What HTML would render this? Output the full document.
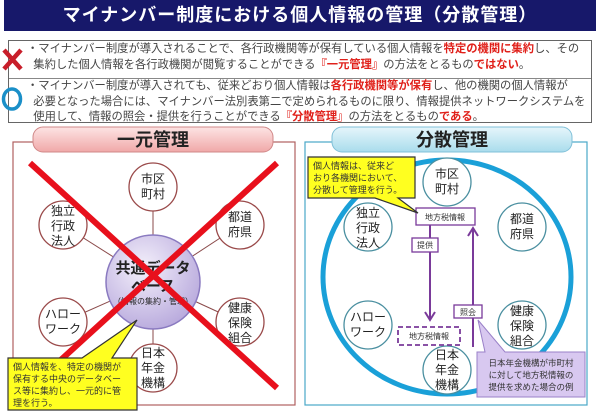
<!DOCTYPE html>
<html><head><meta charset="utf-8"><style>
body{margin:0;width:600px;height:415px;background:#fff;overflow:hidden;font-family:"Liberation Sans","Noto Sans CJK JP",sans-serif;position:relative}
.title{position:absolute;left:4px;top:0;width:592px;height:31px;background:#17186a;color:#fff;font-size:18px;text-align:center;line-height:31px;letter-spacing:1px;font-weight:bold}
.box{position:absolute;left:8px;top:40px;width:582px;height:81px;border:1px solid #666;}
.row{position:absolute;left:18px;font-size:11.3px;line-height:15.5px;color:#444;white-space:nowrap}
.r{color:#e0201a;font-weight:bold}
svg{position:absolute;left:0;top:0}
</style></head><body>
<div class="title">マイナンバー制度における個人情報の管理（分散管理）</div>
<div class="box">
 <div style="position:absolute;left:0;top:37px;width:582px;border-top:1px solid #888"></div>
 <div class="row" style="top:1px">・マイナンバー制度が導入されることで、各行政機関等が保有している個人情報を<span class="r">特定の機関に集約</span>し、その<br>&nbsp;&nbsp;集約した個人情報を各行政機関が閲覧することができる<span class="r">『一元管理』</span>の方法をとるもの<span class="r">ではない</span>。</div>
 <div class="row" style="top:38px">・マイナンバー制度が導入されても、従来どおり個人情報は<span class="r">各行政機関等が保有</span>し、他の機関の個人情報が<br>&nbsp;&nbsp;必要となった場合には、マイナンバー法別表第二で定められるものに限り、情報提供ネットワークシステムを<br>&nbsp;&nbsp;使用して、情報の照会・提供を行うことができる<span class="r">『分散管理』</span>の方法をとるもの<span class="r">である</span>。</div>
</div>
<svg width="600" height="415" font-family="Liberation Sans,Noto Sans CJK JP,sans-serif">
<defs>
<linearGradient id="pk" x1="0" y1="0" x2="0" y2="1"><stop offset="0" stop-color="#fde4e4"/><stop offset="1" stop-color="#f0a8a8"/></linearGradient>
<linearGradient id="bl" x1="0" y1="0" x2="0" y2="1"><stop offset="0" stop-color="#e6f6fb"/><stop offset="1" stop-color="#a9dcec"/></linearGradient>
<radialGradient id="lv" cx=".4" cy=".35" r=".7"><stop offset="0" stop-color="#f4f0fb"/><stop offset="1" stop-color="#b7a8dc"/></radialGradient>
</defs>
<path d="M4 50 L21 69 M21 50 L4 69" stroke="#c81e2a" stroke-width="4.5"/>
<ellipse cx="12" cy="99" rx="8.5" ry="10" fill="none" stroke="#1a8fc8" stroke-width="3.5"/>
<rect x="13" y="142" width="282" height="263" fill="#fff" stroke="#b06060" stroke-width="1.2"/>
<rect x="33" y="127" width="240" height="25" rx="10" fill="url(#pk)" stroke="#d08888"/>
<text x="153" y="146" font-size="18" font-weight="bold" text-anchor="middle" fill="#222">一元管理</text>
<g stroke="#8a4a4a" stroke-width="1">
<line x1="153" y1="282" x2="153" y2="187"/><line x1="153" y1="282" x2="153" y2="368"/>
<line x1="153" y1="282" x2="63" y2="225"/><line x1="153" y1="282" x2="240" y2="225"/>
<line x1="153" y1="282" x2="63" y2="322"/><line x1="153" y1="282" x2="240" y2="322"/>
</g>
<g fill="#fff" stroke="#9a4a4a" stroke-width="1.3">
<circle cx="153" cy="187" r="24"/><circle cx="63" cy="225" r="24"/><circle cx="240" cy="225" r="24"/>
<circle cx="63" cy="322" r="24"/><circle cx="240" cy="322" r="24"/><circle cx="153" cy="368" r="24"/>
</g>
<circle cx="153" cy="282" r="47" fill="url(#lv)" stroke="#8a7ac0" stroke-width="1.5"/>
<g font-size="12" text-anchor="middle" fill="#222">
<text x="153" y="183">市区</text><text x="153" y="198">町村</text>
<text x="63" y="215">独立</text><text x="63" y="230">行政</text><text x="63" y="245">法人</text>
<text x="240" y="221">都道</text><text x="240" y="236">府県</text>
<text x="63" y="318">ハロー</text><text x="63" y="333">ワーク</text>
<text x="240" y="312">健康</text><text x="240" y="327">保険</text><text x="240" y="342">組合</text>
<text x="153" y="357">日本</text><text x="153" y="372">年金</text><text x="153" y="387">機構</text>
<text x="153" y="273" font-size="15" font-weight="bold">共通データ</text>
<text x="153" y="291" font-size="15" font-weight="bold">ベース</text>
<text x="153" y="304" font-size="8">（情報の集約・管理）</text>
</g>
<path d="M30 163 L277 388 M277 163 L30 388" stroke="#e8101c" stroke-width="6"/>
<path d="M8 358 L82 358 L137 320 L112 358 L137 358 L137 410 L8 410 Z" fill="#ffff20" stroke="#333" stroke-width="1.2"/>
<g font-size="9" fill="#333"><text x="13" y="370">個人情報を、特定の機関が</text><text x="13" y="382">保有する中央のデータベー</text><text x="13" y="394">ス等に集約し、一元的に管</text><text x="13" y="406">理を行う。</text></g>
<rect x="305" y="142" width="282" height="263" fill="#fff" stroke="#4aa8c8" stroke-width="1.2"/>
<rect x="332" y="127" width="240" height="25" rx="10" fill="url(#bl)" stroke="#80c0d8"/>
<text x="452" y="146" font-size="18" font-weight="bold" text-anchor="middle" fill="#222">分散管理</text>
<ellipse cx="447" cy="277" rx="124" ry="117" fill="none" stroke="#1aa0d8" stroke-width="5"/>
<g fill="#fff" stroke="#4a8fa0" stroke-width="1.3">
<circle cx="447" cy="182" r="24"/><circle cx="368" cy="227" r="24"/><circle cx="522" cy="227" r="24"/>
<circle cx="368" cy="325" r="24"/><circle cx="522" cy="325" r="24"/><circle cx="447" cy="370" r="24"/>
</g>
<g font-size="12" text-anchor="middle" fill="#222">
<text x="447" y="178">市区</text><text x="447" y="193">町村</text>
<text x="368" y="217">独立</text><text x="368" y="232">行政</text><text x="368" y="247">法人</text>
<text x="522" y="223">都道</text><text x="522" y="238">府県</text>
<text x="368" y="321">ハロー</text><text x="368" y="336">ワーク</text>
<text x="522" y="315">健康</text><text x="522" y="330">保険</text><text x="522" y="345">組合</text>
<text x="447" y="359">日本</text><text x="447" y="374">年金</text><text x="447" y="389">機構</text>
</g>
<g stroke="#7a3a9a" stroke-width="2" fill="none">
<line x1="430" y1="225" x2="430" y2="318"/><path d="M425 312 L430 320 L435 312"/>
<line x1="473" y1="347" x2="473" y2="230"/><path d="M468 236 L473 228 L478 236"/>
</g>
<g fill="#fff" stroke="#7a3a9a" stroke-width="1.3">
<rect x="416" y="208" width="59" height="17"/>
<rect x="412" y="238" width="26" height="14"/>
<rect x="454" y="305" width="28" height="13"/>
<rect x="398" y="327" width="62" height="18" stroke-dasharray="5,3" stroke-width="1.8"/>
</g>
<g font-size="8" fill="#333" text-anchor="middle">
<text x="445" y="220">地方税情報</text><text x="425" y="248">提供</text><text x="468" y="315">照会</text><text x="429" y="339">地方税情報</text>
</g>
<path d="M308 157 L415 157 L415 198 L398 198 L418 213 L375 198 L308 198 Z" fill="#ffff20" stroke="#333" stroke-width="1.2"/>
<g font-size="9" fill="#333"><text x="313" y="169">個人情報は、従来ど</text><text x="313" y="181">おり各機関において、</text><text x="313" y="193">分散して管理を行う。</text></g>
<path d="M477 352 L485 352 L478 320 L505 352 L585 352 L585 397 L477 397 Z" fill="#d8c8f0" stroke="#9a80c8" stroke-width="1"/>
<g font-size="8.5" fill="#333" text-anchor="middle"><text x="531" y="366">日本年金機構が市町村</text><text x="531" y="378">に対して地方税情報の</text><text x="531" y="390">提供を求めた場合の例</text></g>
</svg>
</body></html>
